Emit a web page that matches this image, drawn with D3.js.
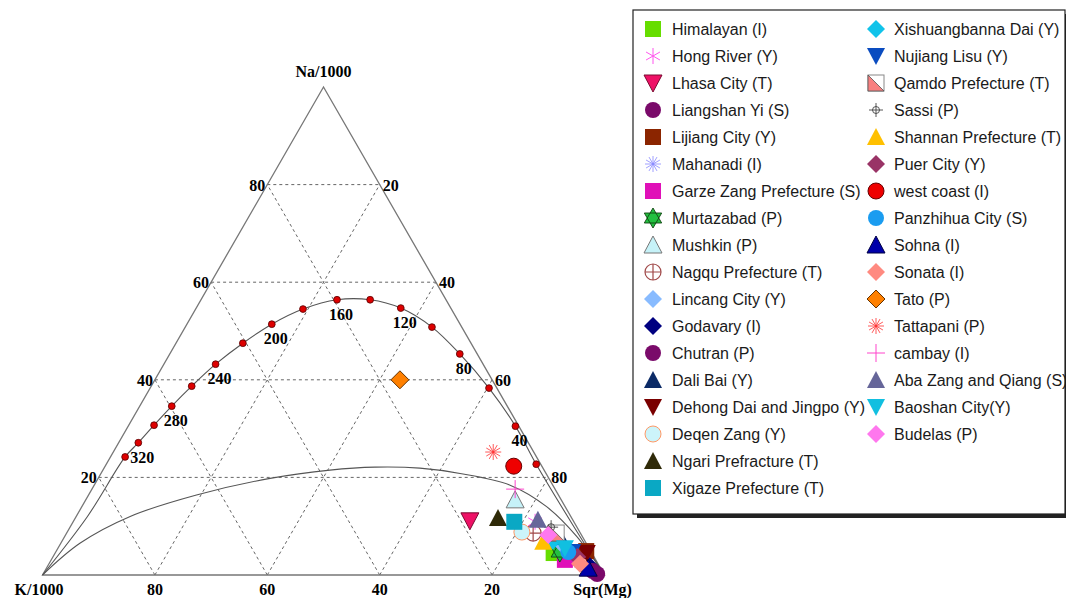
<!DOCTYPE html>
<html>
<head>
<meta charset="utf-8">
<script src="https://cdn.jsdelivr.net/npm/d3@7"></script>
<style>
  html, body { margin: 0; padding: 0; background: #fff; }
  svg { display: block; }
</style>
</head>
<body>
<svg id="chart" width="1066" height="598"></svg>
<script>
// ---------------- data ----------------
// Compositions are [Na/1000, K/1000, Sqr(Mg)] in percent of their sum.

const sampleNames = [
  "Himalayan (I)", "Hong River (Y)", "Lhasa City (T)", "Liangshan Yi (S)", "Lijiang City (Y)",
  "Mahanadi (I)", "Garze Zang Prefecture (S)", "Murtazabad (P)", "Mushkin (P)", "Nagqu Prefecture (T)",
  "Lincang City (Y)", "Godavary (I)", "Chutran (P)", "Dali Bai (Y)", "Dehong Dai and Jingpo (Y)",
  "Deqen Zang (Y)", "Ngari Prefracture (T)", "Xigaze Prefecture (T)",
  "Xishuangbanna Dai (Y)", "Nujiang Lisu (Y)", "Qamdo Prefecture (T)", "Sassi (P)",
  "Shannan Prefecture (T)", "Puer City (Y)", "west coast (I)", "Panzhihua City (S)", "Sohna (I)",
  "Sonata (I)", "Tato (P)", "Tattapani (P)", "cambay (I)", "Aba Zang and Qiang (S)",
  "Baoshan City(Y)", "Budelas (P)"
];

const sampleComp = [
  [4.5, 6.8, 88.7], [10.9, 6.9, 82.2], [11.1, 18.4, 70.5], [0.2, 1.2, 98.6], [4.9, 0.8, 94.3],
  [3.1, 3.7, 93.2], [3.1, 5.5, 91.4], [4.7, 5.6, 89.7], [15.4, 8.2, 76.4], [8.6, 8.4, 83.0],
  [6.2, 4.4, 89.4], [1.8, 1.7, 96.5], [0.8, 1.7, 97.5], [7.8, 4.0, 88.2], [4.5, 0.9, 94.6],
  [8.8, 10.3, 80.9], [11.7, 13.1, 75.2], [10.9, 10.6, 78.5],
  [7.0, 5.7, 87.3], [4.7, 3.4, 91.9], [8.6, 4.3, 87.1], [9.8, 4.6, 85.6],
  [6.8, 7.5, 85.7], [3.7, 3.0, 93.3], [22.3, 5.0, 72.7], [4.7, 4.1, 91.2], [1.4, 2.2, 96.4],
  [2.3, 3.2, 94.5], [40.0, 16.4, 43.6], [25.2, 7.2, 67.6], [17.6, 7.1, 75.3], [11.3, 6.2, 82.5],
  [5.5, 4.3, 90.2], [8.2, 5.9, 85.9]
];

// Full equilibrium line: temperature nodes (degC) and their compositions
const eqTemps = [340, 320, 300, 280, 260, 240, 220, 200, 180, 160, 140, 120, 100, 80, 60, 40, 20];
const eqComp = [
  [24.2, 73.2, 2.6], [27.1, 69.4, 3.5], [30.7, 64.8, 4.5], [34.6, 59.7, 5.7], [38.7, 54.1, 7.2],
  [43.2, 47.6, 9.2], [47.5, 40.6, 11.9], [51.4, 33.5, 15.1], [54.5, 26.4, 19.1], [56.4, 19.4, 24.2],
  [56.4, 13.5, 30.1], [54.7, 8.9, 36.4], [50.8, 5.3, 43.9], [45.3, 3.1, 51.6], [38.3, 1.4, 60.3],
  [30.5, 0.6, 68.9], [22.7, 0.8, 76.5]
];
const eqLabelTemps = [320, 280, 240, 200, 160, 120, 80, 40];
// Ends of the full equilibrium line beyond the nodes
const eqLowEnd = [[10.0, 0.5, 89.5], [0, 0, 100]];
const eqHighEnd = [[0, 100, 0], [12.0, 86.0, 2.0]];

// Immature-water (partial equilibrium) boundary
const partialComp = [
  [0, 100, 0], [6.5, 90.1, 3.4], [12.0, 78.4, 9.6], [16.4, 64.4, 19.2], [19.8, 49.6, 30.6],
  [21.5, 38.1, 40.4], [22.1, 29.8, 48.1], [21.9, 21.9, 56.2], [20.8, 15.3, 63.9],
  [18.4, 7.6, 74.0], [14.0, 3.3, 82.7], [7.9, 1.0, 91.1], [0, 0, 100]
];

const gridLevels = [20, 40, 60, 80];
const naTickLabels = ["20", "40", "60", "80"];
const mgTickLabels = ["20", "40", "60", "80"];
const kTickLabels = ["20", "40", "60", "80"];
const apexLabels = ["Na/1000", "K/1000", "Sqr(Mg)"];

// ---------------- marker styles (legend order) ----------------
const markerStyles = [
  {shape: "square", fill: "#66dd00"},
  {shape: "star6", stroke: "#ff55ee"},
  {shape: "triDown", fill: "#ee1166", stroke: "#7a0a30"},
  {shape: "circle", fill: "#7a0a6a"},
  {shape: "square", fill: "#8b2500"},
  {shape: "star12", stroke: "#8888ff"},
  {shape: "square", fill: "#e010b8"},
  {shape: "hexagram", fill: "#22c040", stroke: "#114411"},
  {shape: "triUp", fill: "#c6f2f8", stroke: "#777777"},
  {shape: "circlePlus", stroke: "#a04848"},
  {shape: "diamond", fill: "#88bbff"},
  {shape: "diamond", fill: "#000080"},
  {shape: "circle", fill: "#7a0a6a"},
  {shape: "triUp", fill: "#0b2a66"},
  {shape: "triDown", fill: "#7a0000"},
  {shape: "circle", fill: "#ccf4fa", stroke: "#ff9966"},
  {shape: "triUp", fill: "#2f2a08"},
  {shape: "square", fill: "#0aa8c4"},
  {shape: "diamond", fill: "#11c3ea"},
  {shape: "triDown", fill: "#0a4cc0"},
  {shape: "halfSquare", fill: "#f88080", stroke: "#888888"},
  {shape: "crosshair", stroke: "#444444"},
  {shape: "triUp", fill: "#ffc000"},
  {shape: "diamond", fill: "#993366"},
  {shape: "circle", fill: "#ee0000", stroke: "#660000"},
  {shape: "circle", fill: "#1a9cf0"},
  {shape: "triUp", fill: "#0000aa", stroke: "#000044"},
  {shape: "diamond", fill: "#ff8a80"},
  {shape: "diamond", fill: "#ff8000", stroke: "#663300"},
  {shape: "star12", stroke: "#ff3030"},
  {shape: "plus", stroke: "#ff44cc"},
  {shape: "triUp", fill: "#666699"},
  {shape: "triDown", fill: "#11bfe0"},
  {shape: "diamond", fill: "#ff77ee"}
];

// ---------------- layout ----------------
const svg = d3.select("#chart");
svg.append("rect").attr("width", 1066).attr("height", 598).attr("fill", "#fff");

const xScale = d3.scaleLinear().domain([0, 100]).range([42.5, 604.5]);
const yScale = d3.scaleLinear().domain([0, 100]).range([575, 87]);

// ternary -> screen
function proj(c) {
  const s = c[0] + c[1] + c[2];
  const na = c[0] / s * 100, mg = c[2] / s * 100;
  return [xScale(mg + na / 2), yScale(na)];
}

const plot = svg.append("g");
const serif = "'Liberation Serif', 'Times New Roman', serif";
const sans = "'Liberation Sans', Arial, sans-serif";

// dashed grid
const gridSegs = [];
gridLevels.forEach(v => {
  gridSegs.push([[v, 100 - v, 0], [v, 0, 100 - v]]);   // Na constant
  gridSegs.push([[0, v, 100 - v], [100 - v, v, 0]]);   // K constant
  gridSegs.push([[0, 100 - v, v], [100 - v, 0, v]]);   // Mg constant
});
plot.selectAll(".grid").data(gridSegs).join("line")
  .attr("x1", d => proj(d[0])[0]).attr("y1", d => proj(d[0])[1])
  .attr("x2", d => proj(d[1])[0]).attr("y2", d => proj(d[1])[1])
  .attr("stroke", "#666").attr("stroke-width", 1).attr("stroke-dasharray", "3,3");

// triangle frame
const apexComp = [[100, 0, 0], [0, 100, 0], [0, 0, 100]];
plot.append("path")
  .attr("d", d3.line()(apexComp.map(proj)) + "Z")
  .attr("fill", "none").attr("stroke", "#777").attr("stroke-width", 1.3);

// curves
const curveLine = d3.line().curve(d3.curveCatmullRom.alpha(0.5));
plot.append("path")
  .attr("d", curveLine(partialComp.map(proj)))
  .attr("fill", "none").attr("stroke", "#555").attr("stroke-width", 1.1);
plot.append("path")
  .attr("d", curveLine(eqHighEnd.concat(eqComp, eqLowEnd).map(proj)))
  .attr("fill", "none").attr("stroke", "#555").attr("stroke-width", 1.1);

// temperature nodes
plot.selectAll(".node").data(eqComp).join("circle")
  .attr("cx", d => proj(d)[0]).attr("cy", d => proj(d)[1])
  .attr("r", 3.4).attr("fill", "#dd0000").attr("stroke", "#550000").attr("stroke-width", 0.8);

plot.selectAll(".tlabel").data(eqLabelTemps).join("text")
  .attr("x", t => proj(eqComp[eqTemps.indexOf(t)])[0] + 4)
  .attr("y", t => proj(eqComp[eqTemps.indexOf(t)])[1] + 20)
  .attr("text-anchor", "middle")
  .attr("font-family", serif).attr("font-weight", "bold").attr("font-size", 16)
  .text(t => t);

// tick labels
const tickStyle = sel => sel.attr("font-family", serif).attr("font-weight", "bold")
  .attr("font-size", 16).attr("fill", "#000");
gridLevels.forEach((v, i) => {
  const pl = proj([v, 100 - v, 0]);
  plot.append("text").attr("x", pl[0] - 2).attr("y", pl[1] + 6)
    .attr("text-anchor", "end").call(tickStyle).text(naTickLabels[i]);
  const pr = proj([v, 0, 100 - v]);
  plot.append("text").attr("x", pr[0] + 3).attr("y", pr[1] + 6)
    .attr("text-anchor", "start").call(tickStyle).text(mgTickLabels[3 - i]);
  const pb = proj([0, v, 100 - v]);
  plot.append("text").attr("x", pb[0]).attr("y", pb[1] + 20)
    .attr("text-anchor", "middle").call(tickStyle).text(kTickLabels[i]);
});

// apex labels
const pTop = proj(apexComp[0]), pK = proj(apexComp[1]), pMg = proj(apexComp[2]);
plot.append("text").attr("x", pTop[0]).attr("y", pTop[1] - 10)
  .attr("text-anchor", "middle").call(tickStyle).text(apexLabels[0]);
plot.append("text").attr("x", pK[0] + 21).attr("y", pK[1] + 20)
  .attr("text-anchor", "end").call(tickStyle).text(apexLabels[1]);
plot.append("text").attr("x", pMg[0] - 2).attr("y", pMg[1] + 20)
  .attr("text-anchor", "middle").call(tickStyle).text(apexLabels[2]);

// ---------------- markers ----------------
function rays(g, angles, len, stroke, width) {
  angles.forEach(a => {
    const r = a * Math.PI / 180;
    g.append("line").attr("x1", -len * Math.cos(r)).attr("y1", -len * Math.sin(r))
      .attr("x2", len * Math.cos(r)).attr("y2", len * Math.sin(r))
      .attr("stroke", stroke).attr("stroke-width", width);
  });
}

function drawMarker(g, st) {
  const s = 8;
  const fill = st.fill || "none";
  const stroke = st.stroke || "none";
  switch (st.shape) {
    case "square":
      g.append("rect").attr("x", -s).attr("y", -s).attr("width", 2 * s).attr("height", 2 * s)
        .attr("fill", fill).attr("stroke", stroke);
      break;
    case "circle":
      g.append("circle").attr("r", s).attr("fill", fill).attr("stroke", stroke);
      break;
    case "triUp":
      g.append("path").attr("d", `M0,${-s - 1}L${s + 1},${s}L${-s - 1},${s}Z`)
        .attr("fill", fill).attr("stroke", stroke);
      break;
    case "triDown":
      g.append("path").attr("d", `M0,${s + 1}L${s + 1},${-s}L${-s - 1},${-s}Z`)
        .attr("fill", fill).attr("stroke", stroke);
      break;
    case "diamond":
      g.append("path").attr("d", `M0,${-s - 1}L${s + 1},0L0,${s + 1}L${-s - 1},0Z`)
        .attr("fill", fill).attr("stroke", stroke);
      break;
    case "hexagram":
      // two triangles wound the same way so the overlap stays filled
      g.append("path").attr("d", "M0,-10L8.7,5L-8.7,5Z M0,10L-8.7,-5L8.7,-5Z")
        .attr("fill", fill).attr("fill-rule", "nonzero")
        .attr("stroke", stroke).attr("stroke-width", 0.9);
      break;
    case "star6":
      rays(g, [90, 30, 150], s, stroke, 1);
      break;
    case "star12":
      rays(g, [0, 30, 60, 90, 120, 150], s, stroke, 0.8);
      break;
    case "plus":
      g.append("path").attr("d", `M${-s - 1},0H${s + 1}M0,${-s - 1}V${s + 1}`)
        .attr("stroke", stroke).attr("stroke-width", 1);
      break;
    case "circlePlus":
      g.append("circle").attr("r", s).attr("fill", "none").attr("stroke", stroke).attr("stroke-width", 1.2);
      g.append("path").attr("d", `M${-s},0H${s}M0,${-s}V${s}`)
        .attr("stroke", stroke).attr("stroke-width", 1.2);
      break;
    case "crosshair":
      g.append("circle").attr("r", 3.5).attr("fill", "none").attr("stroke", stroke).attr("stroke-width", 0.9);
      g.append("path").attr("d", `M${-s + 1},0H${s - 1}M0,${-s + 1}V${s - 1}`)
        .attr("stroke", stroke).attr("stroke-width", 0.9);
      break;
    case "halfSquare":
      g.append("rect").attr("x", -s).attr("y", -s).attr("width", 2 * s).attr("height", 2 * s)
        .attr("fill", "#fff").attr("stroke", stroke);
      g.append("path").attr("d", `M${-s},${-s}L${s},${s}L${-s},${s}Z`)
        .attr("fill", fill).attr("stroke", "#555").attr("stroke-width", 0.8);
      break;
  }
}

const pts = plot.append("g");
sampleComp.forEach((c, i) => {
  const p = proj(c);
  const g = pts.append("g").attr("transform", `translate(${p[0]},${p[1]})`);
  drawMarker(g, markerStyles[i]);
});

// ---------------- legend ----------------
const leg = svg.append("g");
leg.append("rect").attr("x", 637).attr("y", 14).attr("width", 432).attr("height", 504).attr("fill", "#222");
leg.append("rect").attr("x", 633).attr("y", 10).attr("width", 432).attr("height", 504)
  .attr("fill", "#fff").attr("stroke", "#222").attr("stroke-width", 1.2);

const perCol = 18;
sampleNames.forEach((name, i) => {
  const col = i < perCol ? 0 : 1;
  const row = col === 0 ? i : i - perCol;
  const mx = col === 0 ? 653 : 876;
  const tx = col === 0 ? 672 : 894;
  const y = 29 + row * 27;
  const g = leg.append("g").attr("transform", `translate(${mx},${y})`);
  drawMarker(g, markerStyles[i]);
  leg.append("text").attr("x", tx).attr("y", y + 5.5)
    .attr("font-family", sans).attr("font-size", 16).attr("fill", "#1a1a1a")
    .text(name);
});
</script>
</body>
</html>
